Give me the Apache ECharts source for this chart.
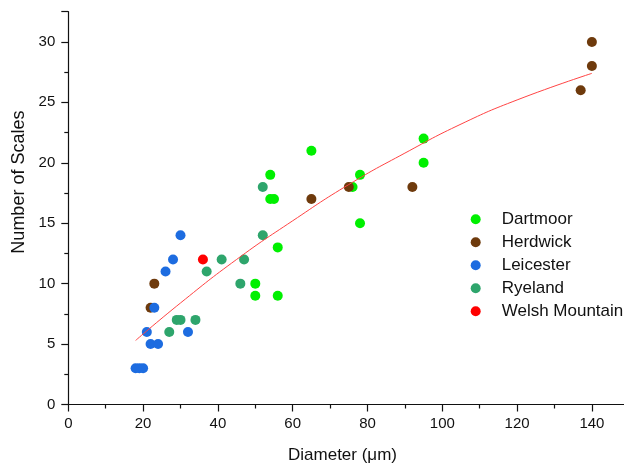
<!DOCTYPE html>
<html>
<head>
<meta charset="utf-8">
<script src="https://cdn.jsdelivr.net/npm/echarts@6/dist/echarts.min.js"></script>
<style>
  html, body { margin: 0; background: #fff; }
  #chart { width: 624px; height: 468px; }
</style>
</head>
<body>
<div id="chart"></div>
<script>
// --- data ---
const breeds = ["Dartmoor", "Herdwick", "Leicester", "Ryeland", "Welsh Mountain"];
const breedColors = ["#00f000", "#6e3a0c", "#1d6ce0", "#2ea56c", "#ff0000"];

const dartmoorX = [50, 50, 54, 54, 55, 56, 56, 65, 76, 78, 78, 95, 95];
const dartmoorY = [9, 10, 17, 19, 17, 9, 13, 21, 18, 15, 19, 20, 22];
const herdwickX = [22, 23, 65, 75, 92, 137, 140, 140];
const herdwickY = [8, 10, 17, 18, 18, 26, 28, 30];
const leicesterX = [18, 19, 20, 21, 22, 23, 24, 26, 28, 30, 32];
const leicesterY = [3, 3, 3, 6, 5, 8, 5, 11, 12, 14, 6];
const ryelandX = [27, 29, 30, 34, 37, 41, 46, 47, 52, 52];
const ryelandY = [6, 7, 7, 7, 11, 12, 10, 12, 14, 18];
const welshX = [36];
const welshY = [12];

// fitted curve
const fitX = [18, 30, 45, 60, 75, 90, 105, 120, 140];
const fitY = [5.3, 8.4, 12.0, 15.2, 18.2, 20.8, 23.2, 25.2, 27.4];

const xTicks = [0, 20, 40, 60, 80, 100, 120, 140];
const yTicks = [0, 5, 10, 15, 20, 25, 30];

const FONT = "'Liberation Sans', Arial, sans-serif";

function zip(xs, ys) {
  return xs.map((x, i) => [x, ys[i]]);
}

const groups = [
  zip(dartmoorX, dartmoorY),
  zip(herdwickX, herdwickY),
  zip(leicesterX, leicesterY),
  zip(ryelandX, ryelandY),
  zip(welshX, welshY),
];

const chart = echarts.init(document.getElementById("chart"), null, { renderer: "canvas" });

const scatterSeries = breeds.map((name, i) => ({
  name,
  type: "scatter",
  data: groups[i],
  symbol: "circle",
  symbolSize: 10,
  itemStyle: { color: breedColors[i], opacity: 1 },
  z: 2 + i,
}));

chart.setOption({
  animation: false,
  backgroundColor: "#fff",
  textStyle: { fontFamily: FONT },
  // the x axis runs past the right edge of the picture (cropped)
  grid: { left: 68.3, right: -42.7, top: 11.7, bottom: 63.5, outerBoundsMode: "none", containLabel: false },
  legend: {
    data: breeds,
    orient: "vertical",
    left: 470.7,
    top: 210.3,
    padding: 0,
    icon: "circle",
    itemWidth: 10,
    itemHeight: 10,
    itemGap: 5,
    textStyle: { fontFamily: FONT, fontSize: 17, color: "#111", lineHeight: 18, padding: [0, 0, 0, 16] },
  },
  xAxis: {
    type: "value",
    min: 0,
    max: 160,
    interval: 20,
    name: "Diameter (\u03bcm)",
    nameLocation: "middle",
    nameGap: 42,
    nameTextStyle: { fontFamily: FONT, fontSize: 17, color: "#111", padding: [0, 50, 0, 0] },
    axisLine: { lineStyle: { color: "#111", width: 1.2 } },
    axisTick: { show: true, inside: false, length: 7, lineStyle: { color: "#111", width: 1.2 } },
    minorTick: { show: true, splitNumber: 2, length: 4, lineStyle: { color: "#111", width: 1.2 } },
    axisLabel: {
      fontFamily: FONT, fontSize: 15, color: "#111", margin: 12,
      formatter: (v) => (xTicks.includes(v) ? String(v) : ""),
    },
    splitLine: { show: false },
  },
  yAxis: {
    type: "value",
    min: 0,
    max: 32.5,
    interval: 5,
    name: "Number of Scales",
    nameLocation: "middle",
    nameGap: 33,
    nameTextStyle: { fontFamily: FONT, fontSize: 18, color: "#111", padding: [0, 0, 0, 52] },
    axisLine: { show: true, lineStyle: { color: "#111", width: 1.2 } },
    axisTick: { show: true, inside: false, length: 7, lineStyle: { color: "#111", width: 1.2 } },
    minorTick: { show: true, splitNumber: 2, length: 4, lineStyle: { color: "#111", width: 1.2 } },
    axisLabel: {
      fontFamily: FONT, fontSize: 15, color: "#111", margin: 13,
      formatter: (v) => (yTicks.includes(v) ? String(v) : ""),
    },
    splitLine: { show: false },
  },
  series: [
    ...scatterSeries,
    {
      name: "fit",
      type: "line",
      data: zip(fitX, fitY),
      smooth: true,
      showSymbol: false,
      lineStyle: { color: "#f44", width: 1 },
      z: 10,
    },
  ],
});
</script>
</body>
</html>
